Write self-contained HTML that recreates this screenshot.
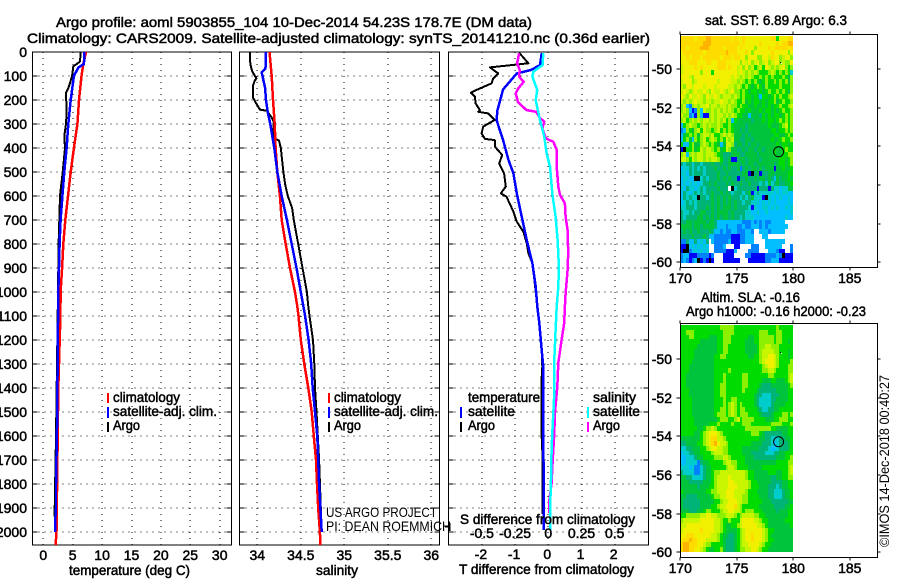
<!DOCTYPE html>
<html lang="en">
<head>
<meta charset="utf-8">
<title>Argo profile 5903855_104</title>
<style>
html,body{margin:0;padding:0;background:#fff;}
svg{display:block;}
text{font-family:"Liberation Sans",sans-serif;font-size:14px;fill:#000;}
.b{stroke:#000;stroke-width:.5px;}
</style>
</head>
<body>
<svg id="chart" xmlns="http://www.w3.org/2000/svg" width="900" height="580" viewBox="0 0 900 580">
<rect x="0" y="0" width="900" height="580" fill="#fff"/>
<g id="maps"></g>
<g id="panels"></g>
<text class="b" x="56" y="27" textLength="476" lengthAdjust="spacingAndGlyphs">Argo profile: aoml 5903855_104 10-Dec-2014 54.23S 178.7E (DM data)</text>
<text class="b" x="27" y="43" textLength="623" lengthAdjust="spacingAndGlyphs">Climatology: CARS2009. Satellite-adjusted climatology: synTS_20141210.nc (0.36d earlier)</text>

<text class="b" x="69" y="575" textLength="121" lengthAdjust="spacingAndGlyphs">temperature (deg C)</text>
<text class="b" x="316" y="575" textLength="42" lengthAdjust="spacingAndGlyphs">salinity</text>
<text class="b" x="459" y="574" textLength="175" lengthAdjust="spacingAndGlyphs">T difference from climatology</text>
<text class="b" x="460" y="524" textLength="175" lengthAdjust="spacingAndGlyphs">S difference from climatology</text>

<g>
<rect x="107" y="393" width="2" height="10" fill="#f00"/>
<text class="b" x="113" y="402" textLength="67" lengthAdjust="spacingAndGlyphs">climatology</text>
<rect x="107" y="407" width="2" height="11" fill="#00f"/>
<text class="b" x="113" y="416" textLength="104" lengthAdjust="spacingAndGlyphs">satellite-adj. clim.</text>
<rect x="107" y="422" width="2" height="10" fill="#000"/>
<text class="b" x="113" y="430" textLength="27" lengthAdjust="spacingAndGlyphs">Argo</text>
</g>
<g>
<rect x="328" y="393" width="2" height="10" fill="#f00"/>
<text class="b" x="334" y="402" textLength="67" lengthAdjust="spacingAndGlyphs">climatology</text>
<rect x="328" y="407" width="2" height="11" fill="#00f"/>
<text class="b" x="334" y="416" textLength="104" lengthAdjust="spacingAndGlyphs">satellite-adj. clim.</text>
<rect x="328" y="422" width="2" height="10" fill="#000"/>
<text class="b" x="334" y="430" textLength="27" lengthAdjust="spacingAndGlyphs">Argo</text>
</g>
<g>
<text class="b" x="468" y="402" textLength="72" lengthAdjust="spacingAndGlyphs">temperature</text>
<rect x="460" y="407" width="2" height="11" fill="#00f"/>
<text class="b" x="468" y="416" textLength="47" lengthAdjust="spacingAndGlyphs">satellite</text>
<rect x="460" y="422" width="2" height="10" fill="#000"/>
<text class="b" x="468" y="430" textLength="27" lengthAdjust="spacingAndGlyphs">Argo</text>
<text class="b" x="593" y="402" textLength="43" lengthAdjust="spacingAndGlyphs">salinity</text>
<rect x="587" y="407" width="2" height="11" fill="#0ff"/>
<text class="b" x="593" y="416" textLength="47" lengthAdjust="spacingAndGlyphs">satellite</text>
<rect x="587" y="422" width="2" height="10" fill="#f0f"/>
<text class="b" x="593" y="430" textLength="27" lengthAdjust="spacingAndGlyphs">Argo</text>
</g>
<text x="326" y="517" textLength="111" lengthAdjust="spacingAndGlyphs">US ARGO PROJECT</text>
<text x="326" y="531" textLength="125" lengthAdjust="spacingAndGlyphs">PI: DEAN ROEMMICH</text>

<text class="b" x="705" y="25" textLength="142" lengthAdjust="spacingAndGlyphs">sat. SST: 6.89 Argo: 6.3</text>
<text class="b" x="701" y="302" textLength="99" lengthAdjust="spacingAndGlyphs">Altim. SLA: -0.16</text>
<text class="b" x="686" y="316" textLength="180" lengthAdjust="spacingAndGlyphs">Argo h1000: -0.16 h2000: -0.23</text>
<text transform="translate(889,547) rotate(-90)" x="0" y="0" textLength="172" lengthAdjust="spacingAndGlyphs">©IMOS 14-Dec-2018 00:40:27</text>
<line x1="445" y1="527" x2="450" y2="527" stroke="#000" stroke-width="1" shape-rendering="crispEdges"/>
<line x1="450" y1="523" x2="450" y2="531" stroke="#000" stroke-width="1" shape-rendering="crispEdges"/>
</svg>

<script>
// ---- Profile data (depth in dbar, values in axis units) ----
const depthTicks = [0,100,200,300,400,500,600,700,800,900,1000,1100,1200,1300,1400,1500,1600,1700,1800,1900,2000];
const tempTicks = [0,5,10,15,20,25,30];
const salTicks = [34,34.5,35,35.5,36];
const salTickLabels = ['34','34.5','35','35.5','36'];
const tDiffTicks = [-2,-1,0,1,2];
const tDiffTickLabels = ['-2','-1','0','1','2'];
const sDiffTicks = [-0.5,-0.25,0,0.25,0.5];
const sDiffTickLabels = ['-0.5','-0.25','0','0.25','0.5'];

const tempClimDepth = [0,50,100,200,300,400,500,600,700,800,900,1000,1100,1400,1500,1700,2000,2054];
const tempClimValue = [7.26,6.8,6.5,6.07,5.8,5.2,4.66,4.2,3.75,3.4,3.2,2.95,2.9,2.55,2.5,2.4,2.25,2.1];
const tempSatDepth = [0,50,65,100,200,300,400,500,600,700,800,900,1000,1400,1500,1800,1900,1960,2000];
const tempSatValue = [7.0,6.9,5.95,5.2,4.66,4.25,3.97,3.57,3.24,2.95,2.78,2.67,2.55,2.4,2.38,2.16,2.16,2.0,2.0];
const tempArgoDepth = [0,40,60,100,120,150,170,250,300,350,400,500,600,700,800,1000,1600,1900,1936];
const tempArgoValue = [6.36,6.24,5.1,4.9,4.66,4.25,3.86,3.97,3.86,3.57,3.69,3.3,2.84,2.72,2.6,2.5,2.16,1.94,1.94];

const salClimDepth = [0,100,200,300,400,500,600,700,800,900,1000,1060,1100,1200,1300,1400,1500,1600,1700,1800,1900,2000,2054];
const salClimValue = [34.14,34.165,34.18,34.2,34.21,34.23,34.26,34.28,34.326,34.376,34.433,34.46,34.474,34.50,34.54,34.586,34.625,34.65,34.675,34.686,34.70,34.72,34.725];
const salSatDepth = [0,60,70,85,100,150,200,250,300,400,500,600,700,800,900,1000,1060,1100,1200,1300,1400,1500,1600,1700,1800,1900,2000];
const salSatValue = [34.097,34.097,34.09,34.05,34.06,34.09,34.10,34.12,34.15,34.195,34.23,34.28,34.34,34.395,34.45,34.50,34.53,34.55,34.59,34.62,34.637,34.663,34.69,34.70,34.71,34.725,34.74];
const salArgoDepth = [0,50,80,110,120,140,190,210,240,245,270,290,330,360,370,400,500,550,600,650,700,800,900,1000,1060,1100,1200,1300,1400,1500,1700,1900,1990];
const salArgoValue = [33.916,33.92,33.94,33.99,33.97,33.95,33.95,33.98,34.03,34.11,34.16,34.19,34.185,34.2,34.25,34.27,34.30,34.32,34.35,34.40,34.42,34.47,34.52,34.57,34.586,34.60,34.64,34.655,34.663,34.68,34.71,34.73,34.735];

const dTArgoDepth = [3,47,64,89,110,131,158,169,186,214,242,249,256,283,311,339,362,367,394,429,464,506,561,589,603,665,707,749,797,839,881,950,1061,1129,1242,1312,1354,1604,1700,1754,1867,1925];
const dTArgoValue = [-0.88,-0.60,-1.76,-1.51,-1.66,-1.71,-2.16,-2.33,-2.21,-2.19,-2.06,-2.11,-1.81,-1.61,-1.96,-2.01,-1.91,-1.61,-1.61,-1.39,-1.48,-1.33,-1.28,-1.43,-1.26,-1.05,-0.95,-0.75,-0.65,-0.60,-0.48,-0.42,-0.33,-0.27,-0.20,-0.18,-0.20,-0.20,-0.17,-0.18,-0.18,-0.17];
const dTSatDepth = [5,54,75,89,156,242,283,367,450,506,589,686,783,881,978,1061,1129,1242,1312,1587,1992];
const dTSatValue = [-0.20,-0.25,-0.52,-0.95,-1.36,-1.53,-1.56,-1.36,-1.20,-1.05,-0.95,-0.80,-0.65,-0.48,-0.38,-0.33,-0.27,-0.20,-0.15,-0.15,-0.13];
const dSSatDepth = [5,54,82,103,158,200,283,353,422,478,589,686,783,894,978,1061,1158,1283,1450,1587,1658,1783,1921,1992];
const dSSatValue = [-0.038,-0.043,-0.113,-0.12,-0.083,-0.095,-0.063,-0.03,-0.013,0.013,0.03,0.055,0.07,0.08,0.075,0.063,0.055,0.045,0.043,0.03,0.025,0.02,0.013,0.013];
const dSArgoDepth = [5,47,75,103,124,151,172,207,242,249,276,290,318,360,374,408,478,561,596,631,686,742,839,908,1006,1061,1129,1200,1296,1396,1504,1587,1700,1796,1879,1921];
const dSArgoValue = [-0.22,-0.235,-0.215,-0.22,-0.185,-0.225,-0.245,-0.23,-0.165,-0.09,-0.063,-0.03,-0.045,-0.018,0.038,0.063,0.063,0.075,0.088,0.125,0.13,0.145,0.15,0.145,0.13,0.125,0.12,0.10,0.075,0.068,0.05,0.045,0.033,0.025,0.005,0.005];

// ---- Map data: each character is one 0.25 degree cell, colour key below ----
const cellColors = {k:'#000000',b:'#0000ff',a:'#0082ff',c:'#00beff',d:'#00cccc',t:'#00b478',g:'#00c43c',h:'#00dc00',l:'#8cf000',m:'#c8f500',y:'#f0f000',o:'#ffdc00',r:'#ffb400'};
const mapLonTicks = [170,175,180,185];
const mapLatTicks = [-50,-52,-54,-56,-58,-60];
const argoLon = 178.7;
const argoLat = -54.23;
const sstRows = [
"oooooyooorroooooooyoyyoyyyyyyyyyoohyyyoo",
"oooooooorrrooooooooooyoyyyyyoyyyyyoyoorr",
"ooyoooorrroooooyooooyoyyyylyyyyoyoooooyo",
"yoooooooyoooooooroooyyyoylyyyyyyoyyyyyly",
"yyoyoooyooooooyoooyooyylyyyllyymoyylmyyl",
"yyyoooyyyooyyoooyyyyylymylmylmylmyylmlly",
"myyyyoyoyyyyyoooyoyymylylmhlmhymlmlmylhl",
"myyyyyylyyyhyyyyyyyymymlmlmlhhhlmlhlhlhd",
"yyymlyyyyyyyyyyyyymymlmlmlhhlhlhlhhhlhgl",
"myyylmyyyyyyymyyyymmlmlhlhlhghlhhlhlhlgl",
"mlyymyyymyyymyyyymmlmlhlhghlhglhhhhlhhhl",
"mymlmymmymlymmymlmyllhlhghhghghlhhlhlhgl",
"ymlymmymlymmymlmmmlmlhlhhghgchhghlhlhhlm",
"mlmlmymmlmmlmmymmlmlhhlghghhghghhlghlhhl",
"lmcalmlmmylmmlmmlmllhlhhgghgghghghhlhhlm",
"lmlcbalcmllmlmlmlmlhlhhghggghghhghghlhhl",
"mllacblcbblmlmmlmlmlhhggcgggthghghhghlhl",
"lmhlmlmlmmlmlmlmhlchgggggtggghghhghlhlhl",
"chlmllhlmlmllmlhhlhggggtggggggghggghlmhl",
"aclhglmhmllhlmhlhlhggtgtgggggggghhghhlhl",
"cghlhlglmmlmhhlmlmlgggtgtgggggggghhgghlh",
"chlgclhlmhlmlhlhmlmggttggtgggggghgghlhhl",
"hcchlgglmlhlhgcgmmltggtgtggtgggggghghhghl",
"bkhhlghmlmmlhlghmlggttgtggtggtggghgghlhh",
"lmclmlmmlmmmlhgtttgggttggggtggggghgghhll",
"mmlhmlmmlmlmmlhttgbbtggtggggtgggggghhghl",
"tdttdttdtttgttgttggggtgtggtggggggtghhghl",
"cddtdtdtdtttgttgtgttgatgtggtgtgggbgghggh",
"ddctdtttdttttgttgtttttggbktgbttggtgggghh",
"cddcckkdtdtttgtgtgttbttgttgtggtgtcgtgghg",
"cdcdcdcdttgtgtttgtgttgttgtttdtdgdtgttggh",
"dctddcdtdttttgttt.kdtttttttbtttbtddcddgg",
"ctdcdtdtdttgttgtgtdtttdtgbdtdddddcdcddcc",
"ctdtddkttdtgtgtgtgtttdtdtgdddbkdcdcdccdc",
"cdtdtdtttttgtgtgtgtgttdttdddcdcdcdccccdc",
"ddtttdtttgtgtgtgggtgttttdbdccddcdcdccdcd",
"tddtdttggttgtggggtgttttddccdccdccccccccd",
"tdttttggtgtgtgtggtgttdtdddcccccccccccdcc",
"ttggtggggtggtcccccccccaaacacacaaccccc..",
"ggggtggtggggtcccacccaacaacccacaccccccc..",
"tgtgttgtttgtccacaaccaaacca..cccaccccc...",
"ttttgtttgtccaaaaaabbbaaccc...cc.........",
"aatcctcdct.caaaaacbbbaaccc....ccccccc...",
"bbkcdcdcdc..aaac...bb....aaa..cccccc...a",
"bkkacdcdcd..aaaabbbc....aaaa...cccabb..a",
"accbbbaaaaba...bbbb....aabbbbbaaaacakbbb",
"acabackbabkb...bbbbbb...bbbbbbaacccbbbbb"
];
const slaRows = [
"hhhhhhhhhhhhhhlllllhhhhhhhhhhhhhhhlhhhhh",
"hhlllhhhhhhhhhhllllhhhhhhhhhlllhhhllhhhh",
"hhhllhhhhhggghhlllhhhhhhgghhlllllhllhhhh",
"hhhhhhhgggggghhlllhhhhhggghhlllllhllhhgh",
"hhhhhhggggggghhllhhhhhhgggghllmmlllhhhhh",
"hhhhhgggggggghhllhhhhhhgggghlmmmmllhhhgh",
"hhhhhggggggghhllhhhhhhhhgghhlmmyymlhhhgh",
"hhhhgggggggghhhhhhhhhhhhhhhhlmyyymlhhhhl",
"hhhggggggggghhhhhhhhhhhhhhhhhlmyymlhhhll",
"hhhggggggggghhhhhlhhhhhhhhhhhllmmlhhhhll",
"hhgggggggggghhhlhhhhhhllhhhhhhhllhhhhhlm",
"hhgggggggggghhhlhhhhhhllhhhhhggghhggghlm",
"hhgggggggggghhllhhhhhhllhhhhgtttgggggghl",
"hhhggggggggghhllhhhhhhlhhhhgttttttgggghh",
"hhhggggggggghhllhhhhhhhhhhgttdddtttggghh",
"hhhhgggggggghhhlhhllhhhhhhgtddddttgggghh",
"hhhhgggggggghhhlhlmlhlhhhhgtddddtgggghhh",
"hhhhgggggggghhllhlmlhllhhhhgtddttgghhhhh",
"hhhhgggggggghlllhlmlhlllhhhhgtttghhhllhl",
"hhhhhgggggggghlllhhlmhllllhhhhggghhlllhhl",
"hhhhhggggghhhlhhhhlhhhlllhhhhhhhllllhhhl",
"hhhhhhgghllmlhhhhhhhhhhlllllllllhhgggghh",
"hhhhhgghlmyyymlhhhhhhhhhhlllhgttttttgghh",
"ggggggghlmyoommlhhhhhhhhhhhhggttdddttggh",
"ttgggghhlmyorymmlhhhhhhhhggggtttdcdtttgh",
"ddttggghhlmyymmllhhhhhggggggtttdccdtttgh",
"cddttgghhhhlmmmllhhhhhgggtttttdddttgghhh",
"ccdddtgghhhhlllmmlhhhhhgggttttttttggghhl",
"ccddddatgghhhhhlmmllhhhggggggggggghhhhll",
"dddcdaadtgghhhhhlmmlhhhhggggghhhhhhhhhlm",
"tddddaadtgghllmmmmmmmmmlhhggggghhhgghhlm",
"ggttddddtgghlmmmmymmmmmlhhggggggttgghhll",
"gggtttttggghlmmmmyymmmmmlhhgggggttttgghh",
"ggggggtggghhlmmmmyyymmmmlhhhgggtttdtgghh",
"hgggggggghhllmmmyyymmmmlhhhggggttdddtggh",
"ggttttggggghllmmyyymmmllhhhhgggttdddtggh",
"gttttttggggghhlmmyyymmllhhhhhgggttttttggh",
"gttttttgggghhlmmyyyomlhhhhhhgggggttttggh",
"gggtttgghllhhhlmmyymmlhlllhhhgggggtggghh",
"hhlllllmmyymmlllmmmlhlmmmmllhhgggggggghh",
"lmmmmmmyyyyymmlhhlhhhmyyyymmlhhgggggghhh",
"mmyyyyyyyyyymmlhgghhlmyyyyymmlhggggggggh",
"myyyyyyoyyyymmlhgggghlmyyyyyymlhhggggggg",
"yyoooyyyyyymmlhggttghlmyyoyyymlhgggggggg",
"yoorooyyymmmmlhgtttghlmyyoyyymlhhggggggg",
"orroooyymllhhhhgtttghlmmyyyymlhhgggggggg",
"orrooyymlhgghhlgtttghllmmyymlhhggggggggg"
];

// ---- Geometry / axis functions ----
const NS = 'http://www.w3.org/2000/svg';
const panelsG = document.getElementById('panels');
const mapsG = document.getElementById('maps');
const AX_TOP = 52, AX_BOTTOM = 545;
function yDepth(d){ return 52 + 0.24 * d; }
function xTemp(v){ return 43.3 + 5.88 * v; }
function xSal(v){ return 257.3 + 87 * (v - 34); }
function xDT(v){ return 548.3 + 33.2 * v; }
function xDS(v){ return 548.3 + 132.8 * v; }
function lonX(lon){ return 680.3 + 11.3 * (lon - 170); }
function latY(lat, y50){ return y50 + 19.33 * (-50 - lat); }

function mk(tag, parent, props){
  const el = document.createElementNS(NS, tag);
  for (const k in props) el.setAttribute(k, props[k]);
  parent.appendChild(el);
  return el;
}
function seg(parent, x1, y1, x2, y2, dash){
  const p = {x1:x1, y1:y1, x2:x2, y2:y2, stroke:'#000', 'stroke-width':1, 'shape-rendering':'crispEdges'};
  if (dash) p['stroke-dasharray'] = dash;
  return mk('line', parent, p);
}
function label(parent, x, y, str, anchor){
  const t = mk('text', parent, {x:x, y:y, 'text-anchor':anchor, 'class':'b'});
  t.textContent = str;
  return t;
}

function drawFrame(g, left, right, xs){
  depthTicks.forEach(function(d){
    const y = Math.round(yDepth(d));
    const grid = seg(g, left, y, right, y, '1 5');
    
    
    const tl = seg(g, left, y, left + 5, y);
    
    
    const tr = seg(g, right - 5, y, right, y);
    
    
  });
  xs.forEach(function(x){
    const px = Math.round(x);
    const grid = seg(g, px, AX_TOP, px, AX_BOTTOM, '1 5');
    
    
  });
  const f = mk('rect', g, {x:left, y:AX_TOP, width:right-left, height:AX_BOTTOM-AX_TOP, fill:'none', stroke:'#000', 'stroke-width':1, 'shape-rendering':'crispEdges'});
  
  
}
function drawSeries(g, depths, values, xf, color, w, name){
  const pts = depths.map(function(d, i){ return xf(values[i]).toFixed(1) + ',' + yDepth(d).toFixed(1); }).join(' ');
  const l = mk('polyline', g, {points:pts, fill:'none', stroke:color, 'stroke-width':w, 'stroke-linejoin':'round', 'shape-rendering':'crispEdges'});
  
  
}

// Temperature panel
const tempPanel = mk('g', panelsG, {});


drawFrame(tempPanel, 32.5, 231.5, tempTicks.map(xTemp));
drawSeries(tempPanel, tempArgoDepth, tempArgoValue, xTemp, '#000', 2, 'temperature-argo-line');
drawSeries(tempPanel, tempClimDepth, tempClimValue, xTemp, '#f00', 2.5, 'temperature-climatology-line');
drawSeries(tempPanel, tempSatDepth, tempSatValue, xTemp, '#00f', 2.5, 'temperature-satellite-line');
depthTicks.forEach(function(d){
  const t = label(tempPanel, 27, yDepth(d) + 5, String(d), 'end');
  
  
});
tempTicks.forEach(function(v){
  const t = label(tempPanel, xTemp(v), 560, String(v), 'middle');
  
  
});

// Salinity panel
const salPanel = mk('g', panelsG, {});


drawFrame(salPanel, 239.5, 439.5, salTicks.map(xSal));
drawSeries(salPanel, salArgoDepth, salArgoValue, xSal, '#000', 2, 'salinity-argo-line');
drawSeries(salPanel, salClimDepth, salClimValue, xSal, '#f00', 2.5, 'salinity-climatology-line');
drawSeries(salPanel, salSatDepth, salSatValue, xSal, '#00f', 2.5, 'salinity-satellite-line');
salTicks.forEach(function(v, i){
  const t = label(salPanel, xSal(v), 560, salTickLabels[i], 'middle');
  
  
});

// Difference panel
const diffPanel = mk('g', panelsG, {});


drawFrame(diffPanel, 448.5, 648.5, tDiffTicks.map(xDT));
drawSeries(diffPanel, dTArgoDepth, dTArgoValue, xDT, '#000', 2, 't-difference-argo-line');
drawSeries(diffPanel, dTSatDepth, dTSatValue, xDT, '#00f', 2.5, 't-difference-satellite-line');
drawSeries(diffPanel, dSArgoDepth, dSArgoValue, xDS, '#f0f', 2.5, 's-difference-argo-line');
drawSeries(diffPanel, dSSatDepth, dSSatValue, xDS, '#0ff', 2.5, 's-difference-satellite-line');
tDiffTicks.forEach(function(v, i){
  const t = label(diffPanel, xDT(v) - 1, 559, tDiffTickLabels[i], 'middle');
  
  
});
sDiffTicks.forEach(function(v, i){
  const t = label(diffPanel, xDS(v), 538, sDiffTickLabels[i], 'middle');
  
  
});

// Maps
function drawMap(name, rows, top, bottom, y50, latTop, labelY){
  const g = mk('g', mapsG, {});
  
  
  rows.forEach(function(row, r){
    const lat0 = latTop - r * 0.25;
    const y0 = Math.round(latY(lat0, y50));
    const y1 = Math.round(latY(lat0 - 0.25, y50));
    for (let c = 0; c < row.length && c < 40; c++){
      const col = cellColors[row[c]];
      if (!col) continue;
      const x0 = Math.round(lonX(170 + c * 0.25));
      const x1 = Math.round(lonX(170 + (c + 1) * 0.25));
      const cell = mk('rect', g, {x:x0, y:y0, width:x1-x0, height:y1-y0, fill:col, 'shape-rendering':'crispEdges'});
      
      
    }
  });
  const left = 680.5, right = 877.5;
  const f = mk('rect', g, {x:left, y:top, width:right-left, height:bottom-top, fill:'none', stroke:'#000', 'stroke-width':1, 'shape-rendering':'crispEdges'});
  
  
  mapLonTicks.forEach(function(lon){
    const x = Math.round(lonX(lon));
    const t1 = seg(g, x, top - 3, x, top);
    
    
    const t2 = seg(g, x, bottom, x, bottom + 3);
    
    
    const t = label(g, lonX(lon), labelY, String(lon), 'middle');
    
    
  });
  mapLatTicks.forEach(function(lat){
    const y = Math.round(latY(lat, y50));
    const t1 = seg(g, left - 4, y, left, y);
    
    
    const t2 = seg(g, right, y, right + 3, y);
    
    
    const t = label(g, 672, y + 5, String(lat), 'end');
    
    
  });
  const m = mk('circle', g, {cx:lonX(argoLon), cy:latY(argoLat, y50) + 1, r:5, fill:'none', stroke:'#000', 'stroke-width':1});
  
  
  const dot1 = mk('rect', g, {x:780, y:y50 - 7, width:1, height:1, fill:'#000', 'shape-rendering':'crispEdges'});
  
  
  const dot2 = mk('rect', g, {x:781, y:y50 - 6, width:1, height:1, fill:'#fff', 'shape-rendering':'crispEdges'});
  
  
}
drawMap('sst-map', sstRows, 34.5, 267.5, 69, -48.29, 283);
drawMap('sla-map', slaRows, 323.5, 557.5, 359, -48.24, 573);
</script>
</body>
</html>
